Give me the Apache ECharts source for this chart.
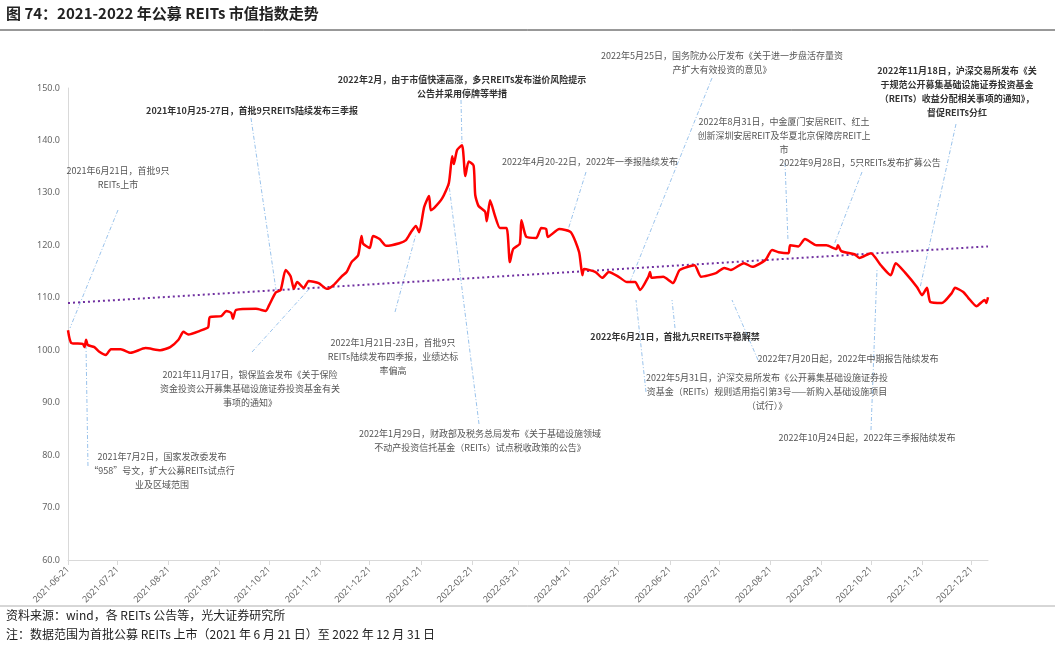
<!DOCTYPE html>
<html><head><meta charset="utf-8">
<script src="https://cdn.jsdelivr.net/npm/echarts@6/dist/echarts.min.js"></script>
<style>body{margin:0;background:#fff}#c{width:1055px;height:651px}</style>
</head><body><div id="c"></div>
<script>
const startDate = '2021-06-21', endDate = '2022-12-31';
const yTicks = [60,70,80,90,100,110,120,130,140,150];
const indexDates = ['2021-06-21','2021-06-23','2021-06-30','2021-07-01','2021-07-02','2021-07-03','2021-07-07','2021-07-10','2021-07-14','2021-07-17','2021-07-23','2021-07-29','2021-08-07','2021-08-16','2021-08-22','2021-08-27','2021-08-30','2021-09-02','2021-09-09','2021-09-14','2021-09-15','2021-09-22','2021-09-25','2021-09-28','2021-09-29','2021-10-01','2021-10-13','2021-10-19','2021-10-21','2021-10-25','2021-10-28','2021-10-31','2021-11-03','2021-11-05','2021-11-07','2021-11-11','2021-11-14','2021-11-20','2021-11-25','2021-11-29','2021-12-04','2021-12-07','2021-12-10','2021-12-14','2021-12-16','2021-12-17','2021-12-21','2021-12-23','2021-12-27','2021-12-31','2022-01-08','2022-01-12','2022-01-15','2022-01-18','2022-01-20','2022-01-23','2022-01-26','2022-01-27','2022-01-29','2022-02-03','2022-02-07','2022-02-09','2022-02-10','2022-02-12','2022-02-15','2022-02-17','2022-02-19','2022-02-22','2022-02-23','2022-02-25','2022-03-01','2022-03-02','2022-03-04','2022-03-07','2022-03-10','2022-03-14','2022-03-16','2022-03-18','2022-03-22','2022-03-23','2022-03-26','2022-04-01','2022-04-04','2022-04-07','2022-04-08','2022-04-15','2022-04-22','2022-04-27','2022-04-29','2022-04-30','2022-05-07','2022-05-11','2022-05-15','2022-05-21','2022-05-26','2022-05-31','2022-06-03','2022-06-08','2022-06-09','2022-06-10','2022-06-17','2022-06-23','2022-06-25','2022-06-27','2022-07-06','2022-07-10','2022-07-19','2022-07-24','2022-07-28','2022-08-05','2022-08-10','2022-08-18','2022-08-22','2022-08-26','2022-09-01','2022-09-02','2022-09-07','2022-09-11','2022-09-18','2022-09-24','2022-09-30','2022-10-01','2022-10-03','2022-10-11','2022-10-14','2022-10-21','2022-10-27','2022-11-02','2022-11-05','2022-11-11','2022-11-18','2022-11-21','2022-11-24','2022-11-26','2022-12-03','2022-12-09','2022-12-11','2022-12-16','2022-12-19','2022-12-24','2022-12-29','2022-12-30','2022-12-31'];
const indexValues = [103.8,101.4,101.2,100.6,102,101,100.6,99.7,99.1,100.2,100.2,99.5,100.4,100,100.6,102,103.5,103,103.7,104.4,106.3,106.5,107.5,107.1,106,107.7,107.9,107.5,108.6,111,111.5,115.3,114.1,111.7,113,111.9,113.2,112.8,111.7,112.4,114.1,114.9,116.8,118.1,121.8,120.3,119.5,121.8,121.2,119.9,120.4,121,122.5,123.7,122.5,127.3,129.4,126.7,127.1,129,131.9,137,135.5,138.2,139.1,133.2,136,135.2,129.6,127.5,126.4,124.6,128.6,125.6,123.3,123.3,116.8,119.3,120.3,124.8,121.6,121.4,123.3,123.1,121.6,123.1,122.5,118.7,114.3,115.5,114.9,113.8,114.9,114,113,113,111.5,114,114.9,113.8,114,112.8,114,115.3,116.2,114,114.7,115.7,115.3,116.6,115.9,117.2,119.1,118.7,118.5,120,119.8,121.2,120,120,119.3,120,118.9,118.3,117.6,118.5,116.2,114.3,116.6,114.7,112,110.5,111.9,109.2,109,110.9,111.9,111.1,110,108.4,109.6,109,110.1];
const trendDates = ['2021-06-21','2022-12-31'];
const trendValues = [109.0, 119.8];
const notes = [
 {t:'2021年6月21日，首批9只\nREITs上市',x:118,y:164,b:0,l:[118,210,70,328]},
 {t:'2021年7月2日，国家发改委发布\n“958”号文，扩大公募REITs试点行\n业及区域范围',x:162,y:450,b:0,l:[86,345,88,468]},
 {t:'2021年10月25-27日，首批9只REITs陆续发布三季报',x:252,y:104,b:1,l:[251,118,276,290]},
 {t:'2021年11月17日，银保监会发布《关于保险\n资金投资公开募集基础设施证券投资基金有关\n事项的通知》',x:250,y:368,b:0,l:[252,352,310,288]},
 {t:'2022年2月，由于市值快速高涨，多只REITs发布溢价风险提示\n公告并采用停牌等举措',x:462,y:73,b:1,l:[461,100,462,145]},
 {t:'2022年1月21日-23日，首批9只\nREITs陆续发布四季报，业绩达标\n率偏高',x:393,y:336,b:0,l:[395,312,416,234]},
 {t:'2022年1月29日，财政部及税务总局发布《关于基础设施领域\n不动产投资信托基金（REITs）试点税收政策的公告》',x:480,y:427,b:0,l:[479,424,449,185]},
 {t:'2022年4月20-22日，2022年一季报陆续发布',x:590,y:155,b:0,l:[586,172,568,230]},
 {t:'2022年5月25日，国务院办公厅发布《关于进一步盘活存量资\n产扩大有效投资的意见》',x:722,y:49,b:0,l:[712,78,630,282]},
 {t:'2022年8月31日，中金厦门安居REIT、红土\n创新深圳安居REIT及华夏北京保障房REIT上\n市',x:784,y:115,b:0,l:[785,163,788,241]},
 {t:'2022年9月28日，5只REITs发布扩募公告',x:860,y:156,b:0,l:[862,172,834,245]},
 {t:'2022年11月18日，沪深交易所发布《关\n于规范公开募集基础设施证券投资基金\n（REITs）收益分配相关事项的通知》，\n督促REITs分红',x:957,y:64,b:1,l:[956,124,920,288]},
 {t:'2022年6月21日，首批九只REITs平稳解禁',x:675,y:330,b:1,l:[675,328,672,300]},
 {t:'2022年7月20日起，2022年中期报告陆续发布',x:848,y:352,b:0,l:[758,360,732,300]},
 {t:'2022年5月31日，沪深交易所发布《公开募集基础设施证券投\n资基金（REITs）规则适用指引第3号——新购入基础设施项目\n（试行）》',x:767,y:371,b:0,l:[646,392,636,300]},
 {t:'2022年10月24日起，2022年三季报陆续发布',x:867,y:431,b:0,l:[871,430,877,270]}
];
// axis categories: every calendar day
const days = [];
for (let d = new Date(startDate+'T00:00:00Z'); d <= new Date(endDate+'T00:00:00Z'); d.setUTCDate(d.getUTCDate()+1)) days.push(d.toISOString().slice(0,10));
const isTick = (i, v) => v.slice(8) === '21';
const graphics = [
 {type:'text',left:6,top:6,style:{text:'图 74：2021-2022 年公募 REITs 市值指数走势',font:'bold 15px "Noto Sans CJK SC"',fill:'#222'}},
 {type:'line',shape:{x1:0,y1:30,x2:1055,y2:30},style:{stroke:'#333',lineWidth:1}},
 {type:'line',shape:{x1:0,y1:606,x2:1055,y2:606},style:{stroke:'#999',lineWidth:0.8}},
 {type:'text',left:6,top:609,style:{text:'资料来源：wind，各 REITs 公告等，光大证券研究所',font:'12px "Noto Sans CJK SC"',fill:'#222'}},
 {type:'text',left:6,top:628,style:{text:'注：数据范围为首批公募 REITs 上市（2021 年 6 月 21 日）至 2022 年 12 月 31 日',font:'12px "Noto Sans CJK SC"',fill:'#222'}}
];
notes.forEach(n => {
 graphics.push({type:'line',z:1,shape:{x1:n.l[0],y1:n.l[1],x2:n.l[2],y2:n.l[3]},style:{stroke:'#7fb3e6',lineWidth:0.8,lineDash:[4,2,1,2]}});
 graphics.push({type:'text',z:5,x:n.x,y:n.y,style:{text:n.t,align:'center',verticalAlign:'top',lineHeight:14,font:(n.b?'bold ':'')+'9px "Noto Sans CJK SC"',fill:n.b?'#333':'#555'}});
});
const chart = echarts.init(document.getElementById('c'));
chart.setOption({
 animation:false,
 grid:{left:68,right:67,top:88,bottom:91},
 xAxis:{type:'category',data:days,boundaryGap:false,
  axisLine:{lineStyle:{color:'#d9d9d9'}},
  axisTick:{interval:isTick,lineStyle:{color:'#d9d9d9'}},
  axisLabel:{interval:isTick,rotate:45,color:'#666',fontSize:9,fontFamily:'Noto Sans'}},
 yAxis:{type:'value',min:yTicks[0],max:yTicks[yTicks.length-1],interval:10,
  axisLine:{show:true,lineStyle:{color:'#d9d9d9'}},splitLine:{show:false},
  axisLabel:{color:'#666',fontSize:9,fontFamily:'Noto Sans',formatter:v=>v.toFixed(1)}},
 series:[
  {type:'line',data:indexDates.map((d,i)=>[d,indexValues[i]]),symbol:'none',smooth:0.2,lineStyle:{color:'#ff0000',width:2.5},z:3},
  {type:'line',data:trendDates.map((d,i)=>[d,trendValues[i]]),symbol:'none',lineStyle:{color:'#7030a0',width:2,type:[2,3]},z:2}
 ],
 graphic:graphics
});
</script></body></html>
